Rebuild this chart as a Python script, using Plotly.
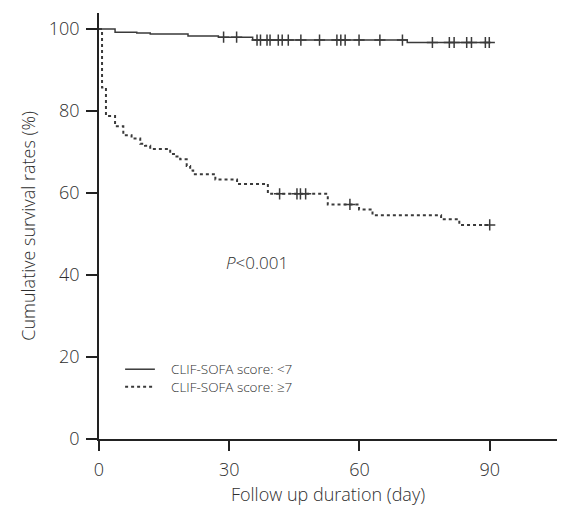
import plotly.graph_objects as go
import numpy as np

# Kaplan-Meier step data
days_lt7 = [0, 3.7, 8.7, 11.8, 20.5, 27.5, 35.4, 71.0, 90.0]
surv_lt7 = [100, 99.2, 99.0, 98.8, 98.3, 98.0, 97.3, 96.7, 96.7]
censor_lt7 = [28.7, 31.7, 36.4, 37.2, 38.7, 39.4, 41.3, 42.2, 43.6, 46.5, 50.8,
              54.8, 55.7, 56.7, 59.9, 64.7, 69.9, 76.8, 80.7, 81.8, 84.7, 85.8, 89.0, 89.9]

days_ge7 = [0, 0.7, 1.6, 3.7, 5.6, 7.5, 9.5, 10.6, 11.8, 16.4, 17.5, 18.7, 20.2,
            21.0, 21.7, 26.8, 31.8, 38.9, 52.7, 59.9, 63.0, 78.8, 83.0, 90.0]
surv_ge7 = [100, 85.7, 78.8, 76.3, 74.1, 73.3, 72.0, 71.5, 70.7, 69.5, 68.9, 68.2, 66.6,
            65.5, 64.6, 63.3, 62.2, 59.8, 57.2, 56.0, 54.6, 53.6, 52.2, 52.2]
censor_ge7 = [41.6, 45.6, 46.4, 47.6, 57.8, 90.0]

group_names = ["CLIF-SOFA score: <7", "CLIF-SOFA score: ≥7"]
x_ticks = [0, 30, 60, 90]
y_ticks = [0, 20, 40, 60, 80, 100]


def step_value(times, surv, t):
    idx = np.searchsorted(np.array(times), t, side="right") - 1
    return surv[max(idx, 0)]


col = "#3a3a3a"
txt = "#2e2e2e"
font_fam = "Open Sans"
fw = 300
styles = [dict(color=col, width=1.5), dict(color=col, width=2, dash="dot")]

fig = go.Figure()
fig.add_trace(go.Scatter(x=days_lt7, y=surv_lt7, mode="lines", line_shape="hv",
                         line=styles[0], name=group_names[0], showlegend=False))
fig.add_trace(go.Scatter(x=days_ge7, y=surv_ge7, mode="lines", line_shape="hv",
                         line=styles[1], name=group_names[1], showlegend=False))
fig.add_trace(go.Scatter(x=censor_lt7, y=[step_value(days_lt7, surv_lt7, t) for t in censor_lt7],
                         mode="markers", showlegend=False, name=group_names[0] + " (censored)",
                         marker=dict(symbol="cross-thin", size=8, line=dict(color=col, width=1.5))))
fig.add_trace(go.Scatter(x=censor_ge7, y=[step_value(days_ge7, surv_ge7, t) for t in censor_ge7],
                         mode="markers", showlegend=False, name=group_names[1] + " (censored)",
                         marker=dict(symbol="cross-thin", size=8, line=dict(color=col, width=1.5))))

# legend drawn as key lines + a two-line label (paper coordinates)
leg_center = 0.1432
leg_half = 0.0206
for style, yy in zip(styles, [leg_center + leg_half, leg_center - leg_half]):
    fig.add_shape(type="line", xref="paper", yref="paper", x0=0.057, x1=0.122, y0=yy, y1=yy,
                  line=style)
fig.add_annotation(x=0.153, y=leg_center, xref="paper", yref="paper", showarrow=False,
                   text="<br>".join(n.replace("<", "&lt;") for n in group_names),
                   xanchor="left", yanchor="middle", align="left",
                   font=dict(size=13.5, color=txt, family=font_fam, weight=fw))

fig.add_annotation(x=0.345, y=0.415, xref="paper", yref="paper", showarrow=False,
                   text="<i>P</i>&lt;0.001", font=dict(size=17, color=txt, family=font_fam, weight=fw),
                   xanchor="center", yanchor="middle")

fig.update_layout(
    width=568, height=507,
    margin=dict(l=99, r=11, t=13, b=68),
    plot_bgcolor="white", paper_bgcolor="white",
    font=dict(family=font_fam, color=txt, size=17, weight=fw),
    showlegend=False,
    xaxis=dict(range=[0, 105.5], tickvals=x_ticks, showgrid=False, zeroline=False,
               showline=True, linecolor="#222", linewidth=1.5, automargin=False,
               ticks="outside", ticklen=10, tickcolor="#222", tickwidth=1.5,
               ticklabelstandoff=4,
               tickfont=dict(size=18, color=txt, family=font_fam, weight=fw),
               title=dict(text="Follow up duration (day)",
                          font=dict(size=18, color=txt, family=font_fam, weight=fw), standoff=8)),
    yaxis=dict(range=[0, 103.9], tickvals=y_ticks, showgrid=False, zeroline=False,
               showline=True, linecolor="#222", linewidth=1.5, automargin=False,
               ticks="outside", ticklen=11, tickcolor="#222", tickwidth=1.5,
               ticklabelstandoff=3,
               tickfont=dict(size=18, color=txt, family=font_fam, weight=fw),
               title=dict(text="Cumulative survival rates (%)",
                          font=dict(size=18, color=txt, family=font_fam, weight=fw), standoff=9)),
)

fig.write_html("out.html")
